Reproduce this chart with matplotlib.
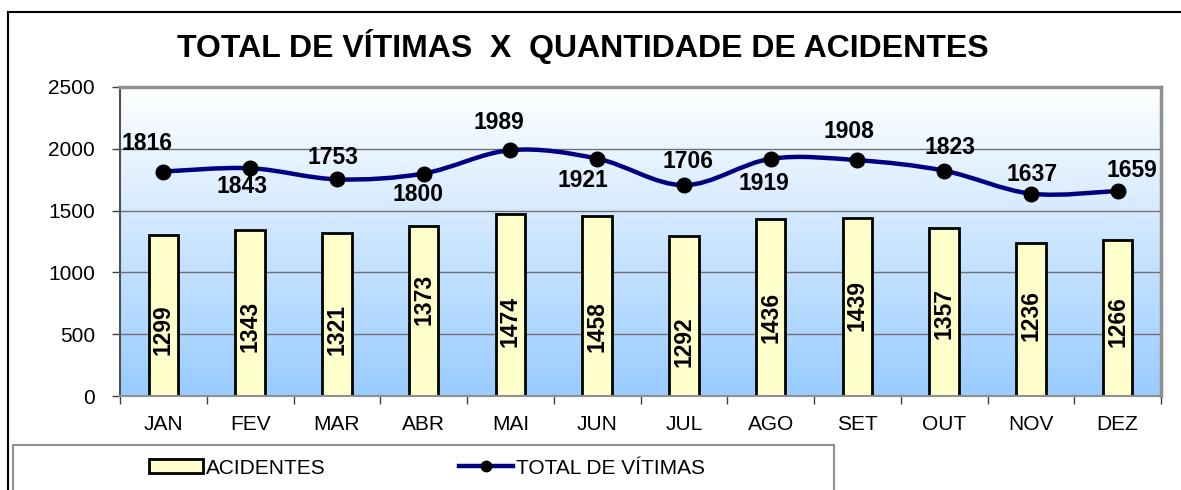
import numpy as np
import matplotlib
matplotlib.use("Agg")
import matplotlib.pyplot as plt
from matplotlib.path import Path
from matplotlib.patches import PathPatch, Rectangle
from matplotlib.lines import Line2D

plt.rcParams['font.family'] = ['Liberation Sans', 'DejaVu Sans']

# dados mensais
meses = ["JAN", "FEV", "MAR", "ABR", "MAI", "JUN", "JUL", "AGO", "SET", "OUT", "NOV", "DEZ"]
acidentes = [1299, 1343, 1321, 1373, 1474, 1458, 1292, 1436, 1439, 1357, 1236, 1266]
vitimas = [1816, 1843, 1753, 1800, 1989, 1921, 1706, 1919, 1908, 1823, 1637, 1659]

# posicao dos rotulos (altura do centro do rotulo nas barras, deslocamento em pontos na linha)
pos_rot_barras = [534, 566, 534, 785, 600, 558, 437, 639, 736, 671, 655, 599]
desl_rot_linha = [(-12, 20), (-6, -13), (-3, 16), (-4, -15), (-8, 20), (-10, -16),
                  (3, 17), (-5, -18), (-6, 21), (4, 17), (1, 14), (10, 15)]


def curva_suave(x, y):
    """Caminho Bezier (Catmull-Rom) passando pelos pontos, como a linha suavizada do Excel."""
    pts = np.column_stack([x, y]).astype(float)
    verts = [pts[0]]
    codes = [Path.MOVETO]
    n = len(pts)
    for i in range(n - 1):
        p0 = pts[i - 1] if i > 0 else pts[i]
        p1 = pts[i]
        p2 = pts[i + 1]
        p3 = pts[i + 2] if i + 2 < n else pts[i + 1]
        c1 = p1 + (p2 - p0) / 6.0
        c2 = p2 - (p3 - p1) / 6.0
        verts += [c1, c2, p2]
        codes += [Path.CURVE4] * 3
    return Path(verts, codes)


W, H = 1181, 490
fig = plt.figure(figsize=(W / 100, H / 100), dpi=100)
ax = fig.add_axes([120 / W, 1 - 396 / H, (1161 - 120) / W, (396 - 87) / H])

x = np.arange(len(meses))

# fundo em degrade (azul claro embaixo -> branco em cima)
grad = np.linspace(0, 1, 256).reshape(-1, 1)
topo = np.array([1.0, 1.0, 1.0])
base = np.array([0.60, 0.80, 1.0])
cores = base + (topo - base) * grad[..., None]
ax.imshow(cores, extent=[-0.5, 11.5, 0, 2500], aspect='auto', zorder=0, origin='lower')

ax.set_xlim(-0.5, 11.5)
ax.set_ylim(0, 2500)

for v in [500, 1000, 1500, 2000]:
    ax.axhline(v, color='#707070', lw=1.0, zorder=1)

ax.bar(x, acidentes, width=0.34, color='#FFFFCC', edgecolor='black', linewidth=2.0, zorder=2)

for xi, val, yp in zip(x, acidentes, pos_rot_barras):
    ax.text(xi, yp, str(val), rotation=90, ha='center', va='center',
            fontsize=16.5, fontweight='bold', zorder=5)

caminho = curva_suave(x, vitimas)
ax.add_patch(PathPatch(caminho, facecolor='none', edgecolor='#000080', lw=3.2, zorder=3,
                       capstyle='round'))
ax.plot(x, vitimas, linestyle='none', marker='o', markersize=10.5, color='black', zorder=4)

for xi, val, (dx, dy) in zip(x, vitimas, desl_rot_linha):
    ax.annotate(str(val), (xi, val), xytext=(dx, dy), textcoords='offset points',
                ha='center', va='center', fontsize=16.5, fontweight='bold', zorder=5)

# eixos
ax.set_yticks(range(0, 2501, 500))
ax.set_xticks(x)
ax.set_xticklabels(meses)
ax.set_xticks(np.arange(-0.5, 12, 1), minor=True)
ax.tick_params(axis='x', which='major', length=0, pad=14, labelsize=15)
ax.tick_params(axis='x', which='minor', length=6, width=1, color='#404040', direction='out')
ax.tick_params(axis='y', length=6, width=1, color='#404040', pad=12, labelsize=15)

for lado in ['top', 'right']:
    ax.spines[lado].set_color('#909090')
    ax.spines[lado].set_linewidth(2.5)
ax.spines['left'].set_color('#505050')
ax.spines['left'].set_linewidth(1.5)
ax.spines['bottom'].set_color('#909090')
ax.spines['bottom'].set_linewidth(1.5)

fig.text(583 / W, 1 - 46 / H, "TOTAL DE VÍTIMAS  X  QUANTIDADE DE ACIDENTES",
         ha='center', va='center', fontsize=23, fontweight='bold')

# moldura externa
fig.add_artist(Line2D([8 / W, 1], [1 - 12 / H, 1 - 12 / H], color='black', lw=1.5,
                      transform=fig.transFigure))
fig.add_artist(Line2D([8 / W, 8 / W], [0, 1 - 12 / H], color='black', lw=1.5,
                      transform=fig.transFigure))

# caixa da legenda
fig.add_artist(Rectangle((13 / W, -0.05), (834 - 13) / W, 0.05 + 1 - 445 / H,
                         transform=fig.transFigure, facecolor='white',
                         edgecolor='#909090', lw=1.5))
h_bar = Rectangle((0, 0), 1, 1, facecolor='#FFFFCC', edgecolor='black', lw=2.0)
h_lin = Line2D([], [], color='#000080', lw=3.2, marker='o', markersize=7.5,
               markerfacecolor='black', markeredgecolor='black')
fig.legend([h_bar, h_lin], ["ACIDENTES", "TOTAL DE VÍTIMAS"], ncol=2,
           loc='center left', bbox_to_anchor=(130 / W, 1 - 468 / H),
           frameon=False, fontsize=15, handlelength=2.6, handleheight=0.62,
           handletextpad=0.15, columnspacing=6.4)

fig.savefig("out.png", dpi=100)
